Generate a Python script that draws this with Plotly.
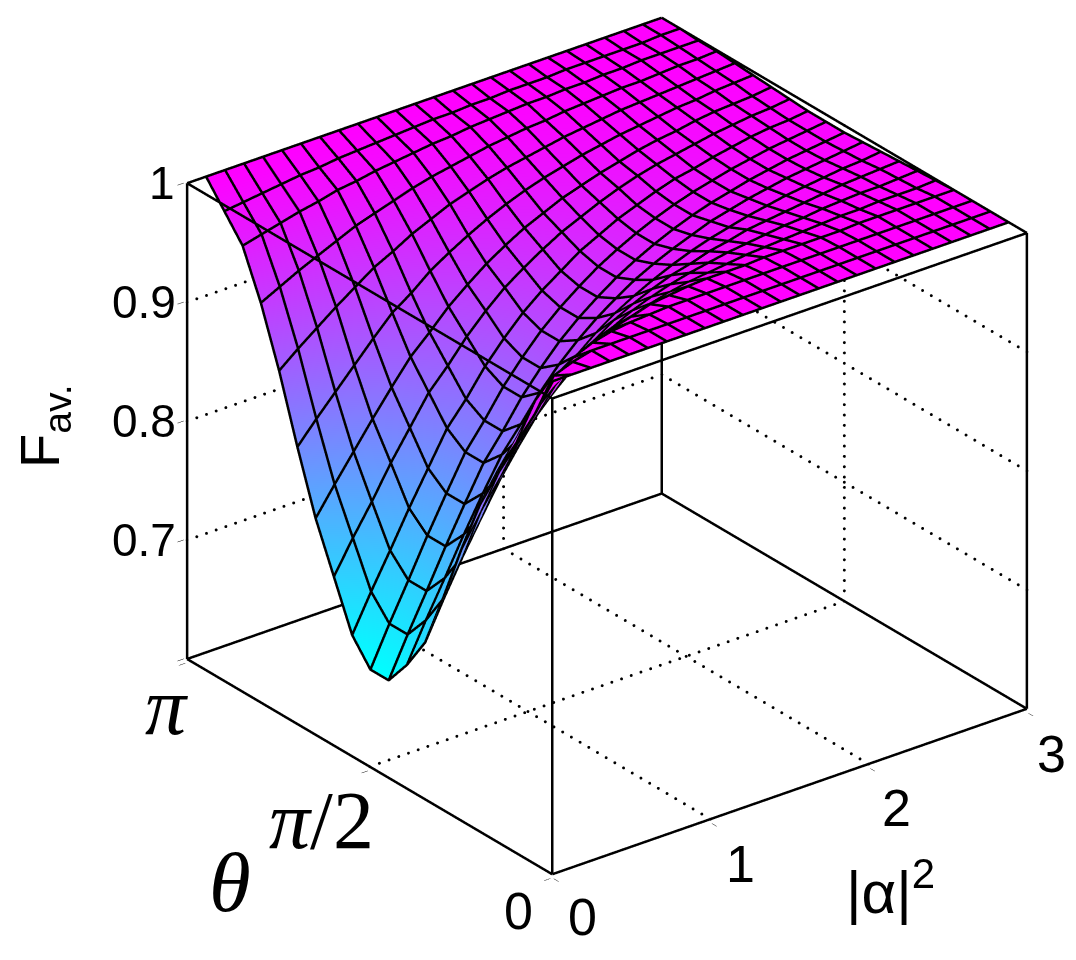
import math
import numpy as np
import plotly.graph_objects as go

alpha2 = [round(0.12 * (i + 1), 2) for i in range(25)]
theta = [math.pi * (i + 1) / 20 for i in range(20)]
# one row per |alpha|^2, columns run along theta
fidelity = [
 [1,.963,.930,.898,.860,.814,.764,.717,.689,.667,.667,.687,.727,.767,.818,.873,.921,.960,.980,1],
 [1,.990,.960,.920,.882,.840,.793,.749,.721,.700,.700,.718,.754,.790,.836,.886,.929,.964,.982,1],
 [1,.996,.974,.938,.901,.863,.820,.779,.751,.731,.731,.747,.779,.812,.853,.898,.937,.968,.984,1],
 [1,1,.985,.953,.919,.885,.847,.809,.782,.763,.763,.777,.806,.834,.870,.910,.944,.972,.986,1],
 [1,1,.992,.966,.935,.905,.870,.836,.811,.793,.793,.805,.830,.855,.887,.921,.951,.975,.988,1],
 [1,1,.996,.976,.949,.923,.892,.861,.838,.822,.822,.833,.854,.875,.903,.932,.958,.979,.989,1],
 [1,1,.998,.983,.958,.935,.907,.879,.858,.843,.843,.852,.871,.890,.914,.940,.963,.981,.991,1],
 [1,1,.999,.988,.967,.946,.923,.898,.879,.866,.866,.874,.890,.906,.927,.949,.968,.984,.992,1],
 [1,1,1,.993,.974,.956,.936,.914,.897,.885,.885,.892,.906,.919,.937,.956,.973,.986,.993,1],
 [1,1,1,.995,.979,.964,.947,.927,.912,.902,.902,.908,.920,.931,.946,.963,.977,.988,.994,1],
 [1,1,1,.997,.983,.970,.955,.938,.925,.916,.916,.921,.931,.941,.954,.968,.980,.990,.995,1],
 [1,1,1,.998,.986,.975,.962,.947,.936,.928,.928,.932,.941,.950,.961,.973,.983,.991,.996,1],
 [1,1,1,.998,.988,.979,.968,.955,.946,.939,.939,.943,.950,.957,.967,.977,.986,.993,.996,1],
 [1,1,1,.998,.990,.982,.972,.962,.954,.948,.948,.951,.957,.964,.972,.980,.988,.994,.997,1],
 [1,1,1,.999,.992,.985,.977,.968,.961,.956,.956,.959,.964,.969,.976,.983,.990,.995,.997,1],
 [1,1,1,.999,.993,.987,.980,.973,.967,.963,.963,.965,.970,.974,.980,.986,.991,.996,.998,1],
 [1,1,1,.999,.994,.989,.984,.977,.973,.969,.969,.971,.975,.978,.983,.988,.993,.996,.998,1],
 [1,1,1,.999,.995,.991,.986,.981,.977,.974,.974,.976,.979,.982,.986,.990,.994,.997,.998,1],
 [1,1,1,.999,.996,.992,.988,.984,.981,.978,.978,.979,.982,.985,.988,.992,.995,.997,.999,1],
 [1,1,1,1,.997,.994,.990,.987,.984,.982,.982,.983,.985,.987,.990,.993,.996,.998,.999,1],
 [1,1,1,1,.997,.995,.992,.989,.987,.985,.985,.986,.988,.990,.992,.994,.996,.998,.999,1],
 [1,1,1,1,.998,.996,.994,.991,.989,.988,.988,.989,.990,.992,.993,.995,.997,.999,.999,1],
 [1,1,1,1,.998,.996,.995,.993,.991,.990,.990,.991,.992,.993,.995,.996,.998,.999,.999,1],
 [1,1,1,1,.998,.997,.996,.994,.993,.992,.992,.992,.993,.994,.996,.997,.998,.999,1,1],
 [1,1,1,1,.999,.998,.997,.996,.995,.994,.994,.994,.995,.996,.997,.998,.999,.999,1,1],
]
x_ticks = [0, 1, 2, 3]
y_ticks = [0, math.pi / 2, math.pi]
y_labels = ["0", "<i>π</i>/2", "<i>π</i>"]
z_ticks = [0.6, 0.7, 0.8, 0.9, 1.0]
z_labels = ["0.7", "0.8", "0.9", "1"]
xr, yr, zr = [0, 3], [0, math.pi], [0.6, 1.0]
ASPECT = (1.378, 1.378, 1.237)
VIEW = (-0.543, -0.706, 0.453)

fig = go.Figure()
Z = np.array(fidelity).T
fig.add_trace(go.Surface(
    x=alpha2, y=theta, z=Z, showscale=False, cmin=0.667, cmax=1,
    colorscale=[[0, "rgb(0,255,255)"], [1, "rgb(255,0,255)"]],
    lighting=dict(ambient=1, diffuse=0, specular=0, roughness=1, fresnel=0),
    hoverinfo="skip"))

# mesh lines of the surface, taken from the same table and nudged along the
# line of sight so that they do not sink into the surface
lift = 0.012
ox = VIEW[0] * lift * 3 / ASPECT[0]
oy = VIEW[1] * lift * math.pi / ASPECT[1]
oz = VIEW[2] * lift * 0.4 / ASPECT[2]
mx, my, mz = [], [], []
for j, a in enumerate(alpha2):
    mx += [a + ox] * len(theta) + [None]
    my += [t + oy for t in theta] + [None]
    mz += [float(v) + oz for v in Z[:, j]] + [None]
for i, t in enumerate(theta):
    mx += [a + ox for a in alpha2] + [None]
    my += [t + oy] * len(alpha2) + [None]
    mz += [float(v) + oz for v in Z[i, :]] + [None]
fig.add_trace(go.Scatter3d(x=mx, y=my, z=mz, mode="lines", line=dict(color="black", width=5),
                           showlegend=False, hoverinfo="skip"))

def seg(a, b, w=5):
    fig.add_trace(go.Scatter3d(x=[a[0], b[0]], y=[a[1], b[1]], z=[a[2], b[2]], mode="lines",
                               line=dict(color="black", width=w),
                               showlegend=False, hoverinfo="skip"))

def dots(a, b, n):
    t = np.linspace(0, 1, n)
    fig.add_trace(go.Scatter3d(x=a[0] + t * (b[0] - a[0]), y=a[1] + t * (b[1] - a[1]), z=a[2] + t * (b[2] - a[2]),
                               mode="markers", marker=dict(color="black", size=1.7, line=dict(width=0)),
                               showlegend=False, hoverinfo="skip"))

for x in xr:
    for y in yr:
        seg((x, y, zr[0]), (x, y, zr[1]))
for x in xr:
    for z in zr:
        seg((x, yr[0], z), (x, yr[1], z))
for y in yr:
    for z in zr:
        seg((xr[0], y, z), (xr[1], y, z))
for x in x_ticks[1:3]:
    dots((x, yr[0], zr[0]), (x, yr[1], zr[0]), 43)
    dots((x, yr[1], zr[0]), (x, yr[1], zr[1]), 47)
dots((xr[0], y_ticks[1], zr[0]), (xr[1], y_ticks[1], zr[0]), 50)
dots((xr[1], y_ticks[1], zr[0]), (xr[1], y_ticks[1], zr[1]), 47)
for z in z_ticks[1:4]:
    dots((xr[0], yr[1], z), (xr[1], yr[1], z), 50)
    dots((xr[1], yr[0], z), (xr[1], yr[1], z), 43)

base = dict(showbackground=False, showgrid=False, zeroline=False, showline=False, showspikes=False,
            ticks="outside", ticklen=8, tickcolor="black", showticklabels=False, title=dict(text=""))
num_font = dict(family="Liberation Sans", size=46, color="black")
big_font = dict(family="Liberation Sans", size=52, color="black")
serif_font = dict(family="Liberation Serif", size=82, color="black")

def lab(x, y, z, text, dx, dy, font):
    return dict(x=x, y=y, z=z, text=text, showarrow=False, xshift=dx, yshift=dy, font=font,
                xanchor="center", yanchor="middle")

x_off = [(30, -42), (30, -44), (28, -44), (25, -45)]
y_off = [(-34, -36), (-48, -53), (-20, -47)]
z_off = [-43, -43, -43, -25]
scene_ann = []
for v, (dx, dy) in zip(x_ticks, x_off):
    scene_ann.append(lab(v, 0, 0.6, str(v), dx, dy, big_font))
for v, s, (dx, dy) in zip(y_ticks, y_labels, y_off):
    scene_ann.append(lab(0, v, 0.6, s, dx, dy, big_font if s == "0" else serif_font))
for v, s, dx in zip(z_ticks[1:], z_labels, z_off):
    scene_ann.append(lab(0, math.pi, v, s, dx, 0, num_font))

pad = 0.012
zpad = 0.003
fig.update_layout(
    width=1076, height=960, margin=dict(l=0, r=0, t=0, b=0), paper_bgcolor="white",
    scene=dict(
        domain=dict(x=[0.113, 1], y=[0.087, 1]),
        aspectmode="manual", aspectratio=dict(x=ASPECT[0], y=ASPECT[1], z=ASPECT[2]),
        camera=dict(eye=dict(x=-0.809, y=-1.052, z=0.675), up=dict(x=0, y=0, z=1),
                    center=dict(x=0, y=0, z=0), projection=dict(type="orthographic")),
        xaxis=dict(base, range=[xr[0] - pad, xr[1] + pad], tickvals=x_ticks),
        yaxis=dict(base, range=[yr[0] - pad, yr[1] + pad], tickvals=y_ticks),
        zaxis=dict(base, range=[zr[0] - zpad, zr[1] + zpad], tickvals=z_ticks),
        annotations=scene_ann,
    ),
    annotations=[
        dict(text="F<sub>av.</sub>", x=35 / 1076, y=1 - 418 / 960, xref="paper", yref="paper", showarrow=False,
             xanchor="center", yanchor="middle", textangle=-90,
             font=dict(family="Liberation Sans", size=56, color="black")),
        dict(text="<i>θ</i>", x=222 / 1076, y=1 - 874 / 960, xref="paper", yref="paper", showarrow=False,
             xanchor="center", yanchor="middle",
             font=dict(family="Liberation Serif", size=85, color="black")),
        dict(text="|α|<sup>2</sup>", x=882 / 1076, y=1 - 880 / 960, xref="paper", yref="paper", showarrow=False,
             xanchor="center", yanchor="middle",
             font=dict(family="Liberation Sans", size=60, color="black")),
    ],
)
fig.write_html("out.html")
